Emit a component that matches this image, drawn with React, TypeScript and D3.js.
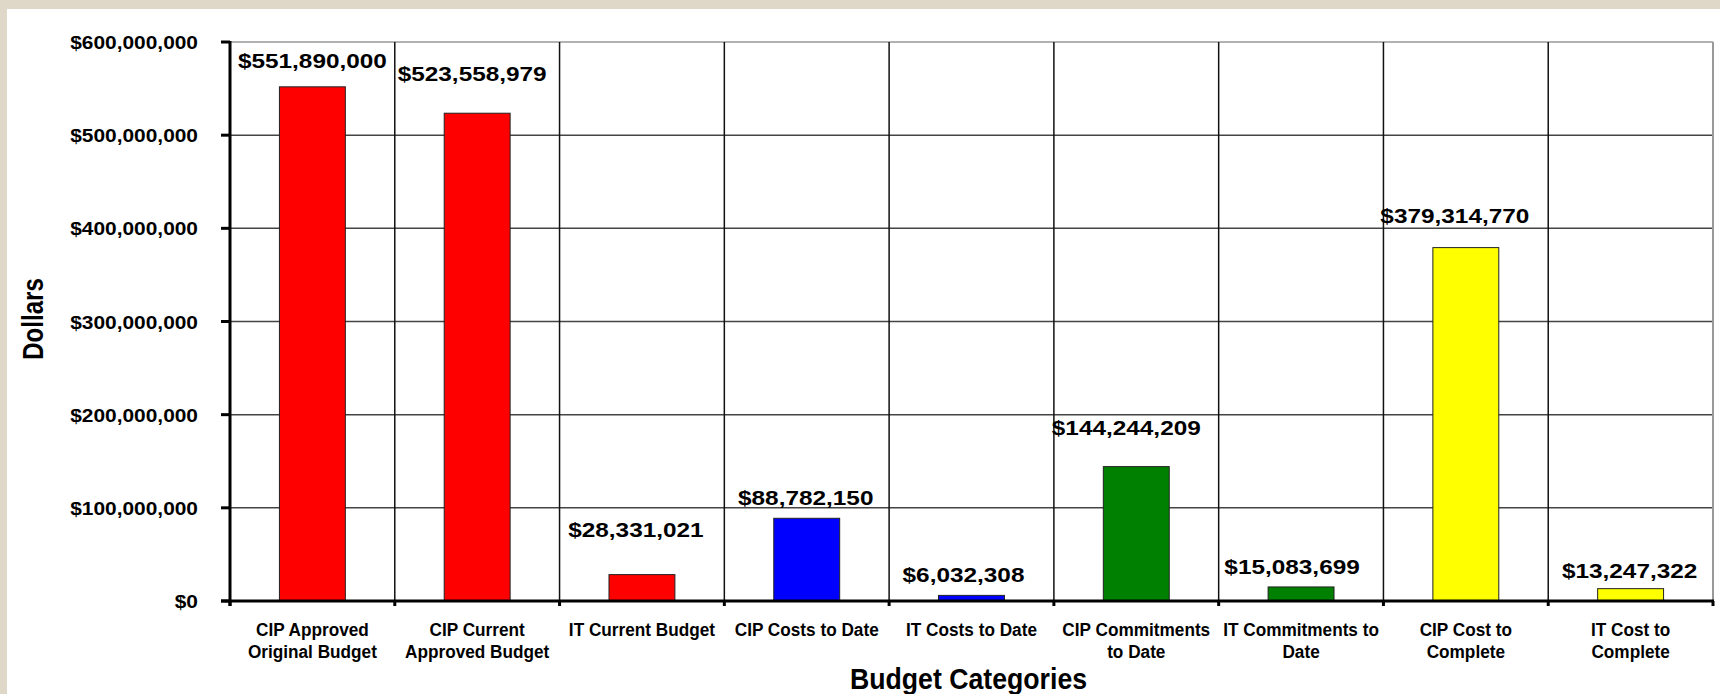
import React from "react";
import * as d3 from "d3";

const categories: string[][] = [
  ["CIP Approved", "Original Budget"],
  ["CIP Current", "Approved Budget"],
  ["IT Current Budget"],
  ["CIP Costs to Date"],
  ["IT Costs to Date"],
  ["CIP Commitments", "to Date"],
  ["IT Commitments to", "Date"],
  ["CIP Cost to", "Complete"],
  ["IT Cost to", "Complete"],
];
const values: number[] = [
  551890000, 523558979, 28331021, 88782150, 6032308, 144244209, 15083699,
  379314770, 13247322,
];
const barColors: string[] = [
  "#ff0000", "#ff0000", "#ff0000", "#0000ff", "#0000ff", "#008000", "#008000",
  "#ffff00", "#ffff00",
];
const yTicks: number[] = [0, 100000000, 200000000, 300000000, 400000000, 500000000, 600000000];
// manual nudges of the data labels (relative to bar top / bar centre)
const labelDx: number[] = [0, -5, -6, -1, -8, -10, -9, -11, -1];
const labelGap: number[] = [19, 32, 38, 13, 13, 32, 13, 25, 11];

const W = 1720;
const H = 694;
const left = 230;
const right = 1713;
const top = 42;
const bottom = 601;
const FONT = "'Liberation Sans', Arial, Helvetica, sans-serif";

export default function App() {
  const ids = categories.map((_, i) => String(i));
  const x = d3.scaleBand<string>().domain(ids).range([left, right]).padding(0);
  const y = d3.scaleLinear().domain([0, 600000000]).range([bottom, top]);
  const bw = x.bandwidth();
  const barW = bw * 0.4;
  const fmtTick = d3.format("$,.0f");
  const fmtVal = d3.format("$,.0f");
  const boundaries = d3.range(categories.length + 1).map((i) => left + i * bw);

  return (
    <svg
      width={W}
      height={H}
      style={{ position: "absolute", left: 0, top: 0, display: "block" }}
      fontFamily={FONT}
    >
      <rect x={0} y={0} width={W} height={H} fill="#dfd7c7" />
      <rect x={7} y={9} width={W - 7} height={H - 9} fill="#ffffff" />

      {/* horizontal gridlines */}
      {yTicks.slice(1, -1).map((t) => (
        <line key={"h" + t} x1={left} x2={right} y1={y(t)} y2={y(t)} stroke="#444" strokeWidth={1.5} />
      ))}
      {/* plot border top/right */}
      <line x1={left} x2={right} y1={top} y2={top} stroke="#999" strokeWidth={1.5} />
      <line x1={right} x2={right} y1={top} y2={bottom} stroke="#999" strokeWidth={2} />
      {/* vertical gridlines */}
      {boundaries.slice(1, -1).map((bx, i) => (
        <line key={"v" + i} x1={bx} x2={bx} y1={top} y2={bottom} stroke="#111" strokeWidth={1.5} />
      ))}

      {/* bars */}
      {values.map((v, i) => (
        <rect
          key={"b" + i}
          x={(x(ids[i]) as number) + (bw - barW) / 2}
          y={y(v)}
          width={barW}
          height={bottom - y(v)}
          fill={barColors[i]}
          stroke="#222"
          strokeWidth={1}
        />
      ))}

      {/* axes */}
      <line x1={left} x2={left} y1={top - 1} y2={bottom + 5} stroke="#000" strokeWidth={3} />
      {yTicks.map((t) => (
        <line key={"yt" + t} x1={left - 9} x2={left} y1={y(t)} y2={y(t)} stroke="#000" strokeWidth={3} />
      ))}
      <line x1={left - 9} x2={right + 1} y1={bottom} y2={bottom} stroke="#000" strokeWidth={3} />
      {boundaries.map((bx, i) => (
        <line key={"xt" + i} x1={bx} x2={bx} y1={bottom} y2={bottom + 5} stroke="#000" strokeWidth={3} />
      ))}

      {/* y tick labels */}
      {yTicks.map((t) => (
        <text
          key={"yl" + t}
          transform={`translate(${left - 32},${y(t) + 7}) scale(1.1,1)`}
          textAnchor="end"
          fontSize={19}
          fontWeight="bold"
          fill="#000"
        >
          {fmtTick(t)}
        </text>
      ))}

      {/* value labels */}
      {values.map((v, i) => (
        <text
          key={"vl" + i}
          transform={`translate(${(x(ids[i]) as number) + bw / 2 + labelDx[i]},${y(v) - labelGap[i]}) scale(1.16,1)`}
          textAnchor="middle"
          fontSize={21}
          fontWeight="bold"
          fill="#000"
        >
          {fmtVal(v)}
        </text>
      ))}

      {/* category labels */}
      {categories.map((lines, i) =>
        lines.map((ln, j) => (
          <text
            key={"cl" + i + "_" + j}
            transform={`translate(${(x(ids[i]) as number) + bw / 2},${636 + j * 21.5}) scale(0.93,1)`}
            textAnchor="middle"
            fontSize={18.5}
            fontWeight="bold"
            fill="#000"
          >
            {ln}
          </text>
        ))
      )}

      {/* axis titles */}
      <text
        transform={`translate(${(left + right) / 2 - 3},689) scale(0.92,1)`}
        textAnchor="middle"
        fontSize={29}
        fontWeight="bold"
        fill="#000"
      >
        Budget Categories
      </text>
      <text
        transform={`translate(43,319) rotate(-90) scale(0.83,1)`}
        textAnchor="middle"
        fontSize={29}
        fontWeight="bold"
        fill="#000"
      >
        Dollars
      </text>
    </svg>
  );
}
